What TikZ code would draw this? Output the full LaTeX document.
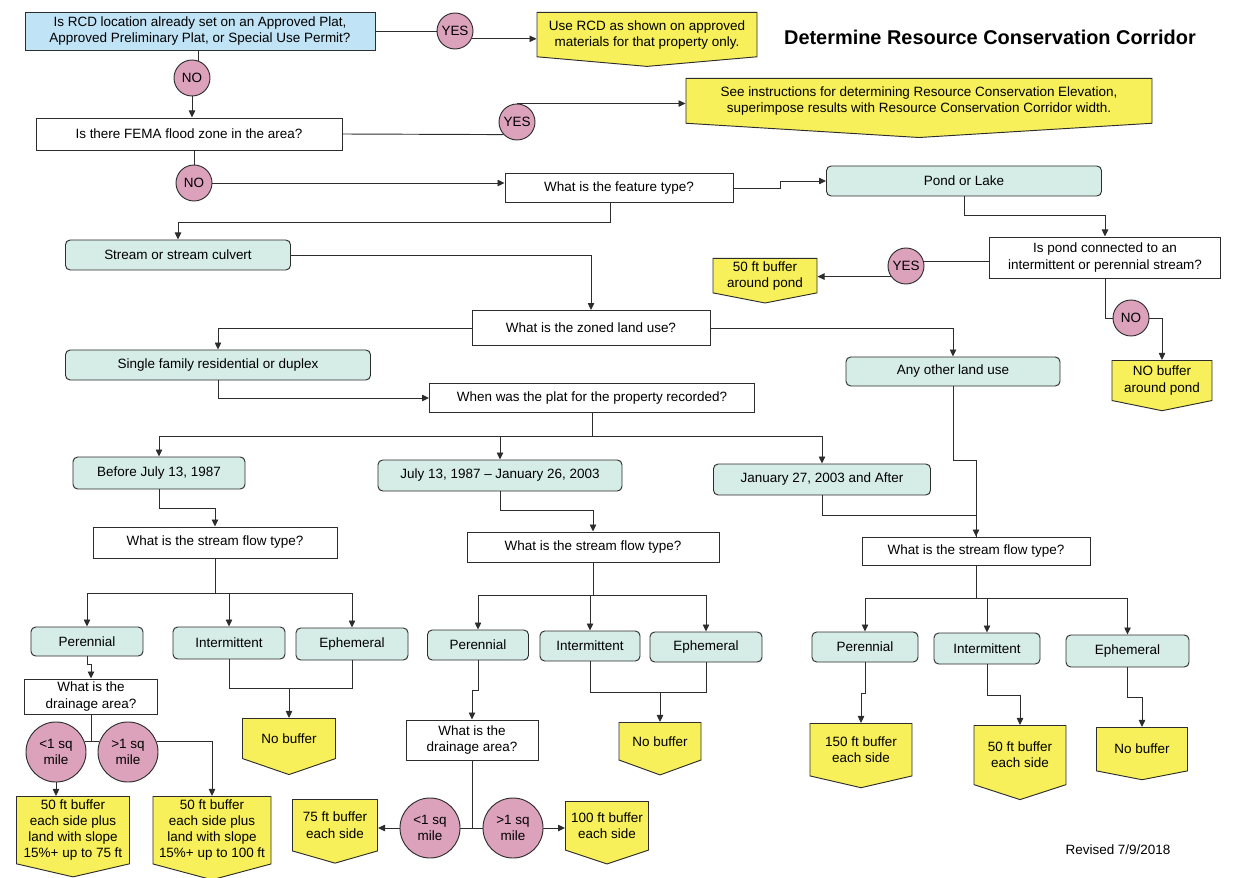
\documentclass[tikz,border=0pt]{standalone}
\usepackage{fontspec}
\setmainfont{Liberation Sans}
\usetikzlibrary{shapes,arrows,arrows.meta,positioning,calc}
\definecolor{rcdblue}{RGB}{192,227,245}
\definecolor{rcdteal}{RGB}{214,236,230}
\definecolor{rcdyellow}{RGB}{247,240,90}
\definecolor{rcdpink}{RGB}{220,162,188}
\definecolor{rcdline}{RGB}{45,45,45}
\newcommand{\bodyfont}{\fontsize{11.5}{13.8}\selectfont}

\begin{document}
\begin{tikzpicture}[x=0.03cm, y=-0.03cm, font=\bodyfont, line width=0.8pt, >={Triangle[length=6pt,width=5.5pt]}, draw=rcdline]
\tikzstyle{question} = [draw=rcdline, rectangle, fill=white, align=center, inner sep=1pt]
\tikzstyle{start} = [question, fill=rcdblue]
\tikzstyle{choice} = [draw=rcdline, rectangle, rounded corners=4pt, fill=rcdteal, align=center, inner sep=1pt]
\tikzstyle{answer} = [draw=rcdline, circle, fill=rcdpink, inner sep=0pt, minimum size=1.08cm, align=center]
\tikzstyle{area} = [answer, minimum size=1.8cm]
\tikzstyle{outcome}[150] = [draw=rcdline, signal, signal to=south, signal pointer angle=#1, fill=rcdyellow, align=center, inner sep=1pt, anchor=north]
\useasboundingbox (0,0) rectangle (1235,878);

% top questions
\node[start, minimum width=10.5cm, minimum height=1.14cm] (q1) at (200,31) {Is RCD location already set on an Approved Plat,\\Approved Preliminary Plat, or Special Use Permit?};
\node[answer] (yes1) at (455,31) {YES};
\node[outcome=170, minimum width=6.6cm, minimum height=1.59cm] (use) at (647,12) {Use RCD as shown on approved\\materials for that property only.};
\node[font=\fontsize{17}{20}\selectfont\bfseries] (title) at (990,37) {Determine Resource Conservation Corridor};
\node[answer] (no1) at (192,78) {NO};
\node[question, minimum width=9.18cm, minimum height=0.96cm] (fema) at (189,134) {Is there FEMA flood zone in the area?};
\node[answer] (yes2) at (517,122) {YES};
\node[outcome=173, minimum width=13.98cm, minimum height=1.71cm] (see) at (919,78) {See instructions for determining Resource Conservation Elevation,\\superimpose results with Resource Conservation Corridor width.};
\node[answer] (no2) at (194,183) {NO};
\node[question, minimum width=6.84cm, minimum height=0.87cm] (feat) at (619,188) {What is the feature type?};

% pond branch
\node[choice, minimum width=8.25cm, minimum height=0.9cm] (pond) at (964,181) {Pond or Lake};
\node[question, minimum width=6.93cm, minimum height=1.23cm] (conn) at (1105,257.5) {Is pond connected to an\\intermittent or perennial stream?};
\node[answer] (yes3) at (906,266) {YES};
\node[outcome=158, minimum width=3.12cm, minimum height=1.26cm] (pond50) at (765,258) {50 ft buffer\\around pond};
\node[answer] (no3) at (1131,318) {NO};
\node[outcome=157, minimum width=3.0cm, minimum height=1.44cm] (nopond) at (1162,360) {NO buffer\\around pond};

% stream branch
\node[choice, minimum width=6.75cm, minimum height=0.9cm] (stream) at (178,255) {Stream or stream culvert};
\node[question, minimum width=7.14cm, minimum height=1.05cm] (zoned) at (591,328) {What is the zoned land use?};
\node[choice, minimum width=9.15cm, minimum height=0.9cm] (single) at (218,365) {Single family residential or duplex};
\node[question, minimum width=9.75cm, minimum height=0.87cm] (plat) at (592,398) {When was the plat for the property recorded?};
\node[choice, minimum width=6.42cm, minimum height=0.87cm] (other) at (953,371.5) {Any other land use};
\node[choice, minimum width=5.16cm, minimum height=0.96cm] (before) at (159,473) {Before July 13, 1987};
\node[choice, minimum width=7.32cm, minimum height=0.93cm] (mid) at (500,475.5) {July 13, 1987 -- January 26, 2003};
\node[choice, minimum width=6.51cm, minimum height=0.93cm] (after) at (822,479.5) {January 27, 2003 and After};
\node[question, minimum width=7.32cm, minimum height=0.93cm] (flowA) at (215,542.5) {What is the stream flow type?};
\node[question, minimum width=7.56cm, minimum height=0.9cm] (flowB) at (593,547) {What is the stream flow type?};
\node[question, minimum width=6.84cm, minimum height=0.84cm] (flowC) at (976,551) {What is the stream flow type?};

% flow types, first column
\node[choice, minimum width=3.36cm, minimum height=0.87cm] (perA) at (87,641.5) {Perennial};
\node[choice, minimum width=3.36cm, minimum height=0.96cm] (intA) at (229,643) {Intermittent};
\node[choice, minimum width=3.36cm, minimum height=0.96cm] (ephA) at (352,644) {Ephemeral};
\node[question, minimum width=3.99cm, minimum height=1.05cm] (drainA) at (91,696.5) {What is the\\drainage area?};
\node[area] (lessA) at (56,752) {<1 sq\\mile};
\node[area] (moreA) at (128,752) {>1 sq\\mile};
\node[outcome=154, minimum width=3.39cm, minimum height=2.37cm] (b75A) at (73,796) {50 ft buffer\\each side plus\\land with slope\\15\%+ up to 75 ft};
\node[outcome=150, minimum width=3.54cm, minimum height=2.46cm] (b100A) at (212,796) {50 ft buffer\\each side plus\\land with slope\\15\%+ up to 100 ft};
\node[outcome=142, minimum width=2.79cm, minimum height=1.5cm] (nobufA) at (289,718) {No buffer};

% flow types, second column
\node[choice, minimum width=3.03cm, minimum height=0.9cm] (perB) at (478,645) {Perennial};
\node[choice, minimum width=3.0cm, minimum height=0.9cm] (intB) at (590,646) {Intermittent};
\node[choice, minimum width=3.36cm, minimum height=0.9cm] (ephB) at (706,647) {Ephemeral};
\node[question, minimum width=3.96cm, minimum height=1.2cm] (drainB) at (472,740) {What is the\\drainage area?};
\node[area] (lessB) at (430,828) {<1 sq\\mile};
\node[area] (moreB) at (513,828) {>1 sq\\mile};
\node[outcome=148, minimum width=2.55cm, minimum height=1.83cm] (b75B) at (335,799) {75 ft buffer\\each side};
\node[outcome=143, minimum width=2.49cm, minimum height=1.83cm] (b100B) at (607,801) {100 ft buffer\\each side};
\node[outcome=140, minimum width=2.46cm, minimum height=1.44cm] (nobufB) at (660,722) {No buffer};

% flow types, third column
\node[choice, minimum width=3.18cm, minimum height=0.9cm] (perC) at (865,647) {Perennial};
\node[choice, minimum width=3.18cm, minimum height=0.93cm] (intC) at (987,648.5) {Intermittent};
\node[choice, minimum width=3.69cm, minimum height=0.96cm] (ephC) at (1127.5,651) {Ephemeral};
\node[outcome=154, minimum width=3.06cm, minimum height=1.83cm] (b150C) at (861,723) {150 ft buffer\\each side};
\node[outcome=144, minimum width=2.76cm, minimum height=2.1cm] (b50C) at (1020,725) {50 ft buffer\\each side};
\node[outcome=158, minimum width=2.73cm, minimum height=1.47cm] (nobufC) at (1142,727) {No buffer};

\node (revised) at (1118,850) {Revised 7/9/2018};

% connectors
\draw (q1.east) -- (yes1.west);
\draw[->] (yes1.-25) -- (yes1.-25 -| use.west);
\draw (no1.70) -- (no1.70 |- q1.south);
\draw[->] (no1.south) -- (no1.south |- fema.north);
\draw (fema.east) -- (yes2.223);
\draw[->] (yes2.north) -- (yes2.north -| see.west);
\draw (no2.north) -- (no2.north |- fema.south);
\draw[->] (no2.east) -- (no2.east -| feat.west);
\draw[->] (feat.east) -- ++(47,0) |- (pond.west);
\draw[->] (pond.south) -- ++(0,19) -| (conn.north);
\draw (yes3.15) -- (yes3.15 -| conn.west);
\draw[->] (yes3.215) -- (yes3.215 -| pond50.east);
\draw (conn.south) |- (no3.west);
\draw[->] (no3.east) -| (nopond.north);
\draw[->] ($(feat.south)+(-9,0)$) -- ++(0,20) -| (stream.north);
\draw[->] (stream.east) -| (zoned.north);
\draw[->] (zoned.west) -| (single.north);
\draw[->] (single.south) |- (plat.west);
\draw[->] (zoned.east) -| (other.north);
\draw (plat.south) -- ++(0,23) coordinate (split);
\draw[->] (split) -| (before.north);
\draw[->] (split) -| (mid.north);
\draw[->] (split) -| (after.north);
\draw[->] (before.south) -- ++(0,19) -| (flowA.north);
\draw[->] (mid.south) -- ++(0,19) -| (flowB.north);
\draw[->] (other.south) -- ++(0,74) -| (flowC.north);
\draw (after.south) -- ++(0,20) -| (flowC.north);
% first column
\draw (flowA.south) -- ++(0,35) coordinate (splitA);
\draw[->] (splitA) -| (perA.north);
\draw[->] (splitA) -| (intA.north);
\draw[->] (splitA) -| (ephA.north);
\draw[->] (perA.south) -- ++(0,8) -| (drainA.north);
\draw (drainA.south) -- (drainA.south |- lessA.20);
\draw (lessA.20) -- (moreA.160);
\draw[->] (moreA.20) -| (b100A.north);
\draw[->] (lessA.south) -- (lessA.south |- b75A.north);
\draw (intA.south) -- ++(0,29) coordinate (mA) -| (ephA.south);
\draw[->] (mA -| nobufA.north) -- (nobufA.north);
% second column
\draw (flowB.south) -- ++(0,33) coordinate (splitB);
\draw[->] (splitB) -| (perB.north);
\draw[->] (splitB) -| (intB.north);
\draw[->] (splitB) -| (ephB.north);
\draw[->] (perB.south) -- ++(0,30) -| (drainB.north);
\draw (drainB.south) -- (drainB.south |- lessB.east);
\draw (lessB.east) -- (moreB.west);
\draw[->] (lessB.west) -- (lessB.west -| b75B.east);
\draw[->] (moreB.east) -- (moreB.east -| b100B.west);
\draw (intB.south) -- ++(0,31) coordinate (mB) -| (ephB.south);
\draw[->] (mB -| nobufB.north) -- (nobufB.north);
% third column
\draw (flowC.south) -- ++(0,33) coordinate (splitC);
\draw[->] (splitC) -| (perC.north);
\draw[->] (splitC) -| (intC.north);
\draw[->] (splitC) -| (ephC.north);
\draw[->] (perC.south) -- ++(0,31) -| (b150C.north);
\draw[->] (intC.south) -- ++(0,31) -| (b50C.north);
\draw[->] (ephC.south) -- ++(0,30) -| (nobufC.north);
\end{tikzpicture}
\end{document}
